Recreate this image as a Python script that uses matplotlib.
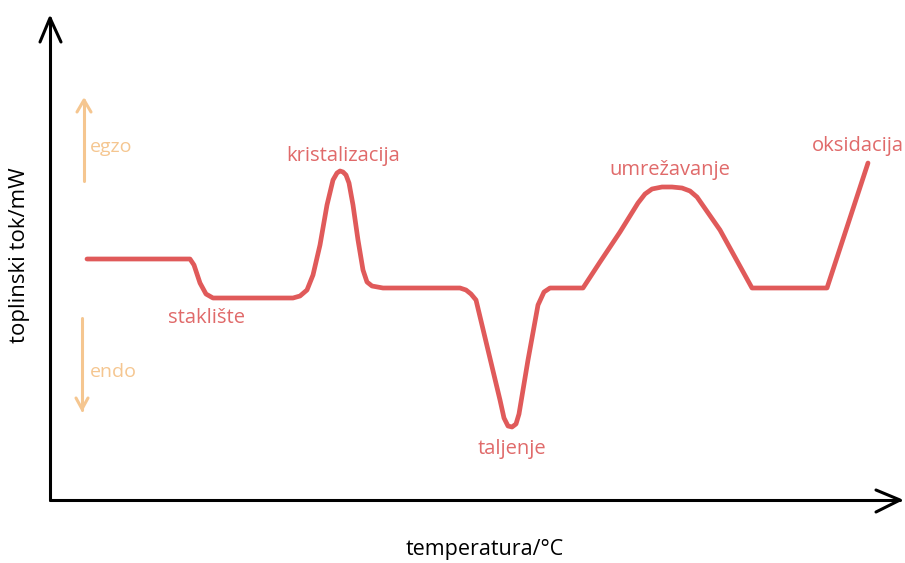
import matplotlib.pyplot as plt

# DSC krivulja (temperatura, toplinski tok) - procijenjeno sa slike
temperatura = [87, 190, 194, 200, 206, 213, 293, 300, 307, 313, 320, 327, 333, 337, 340, 343,
               346, 349, 353, 358, 363, 367, 372, 383, 460, 466, 471, 476, 488, 500, 504,
               508, 512, 516, 519, 528, 538, 544, 550, 583, 600, 620, 638, 645, 652, 662,
               672, 682, 690, 697, 720, 752, 827, 868]
tok = [259, 259, 265, 283, 294, 298, 298, 296, 290, 275, 245, 205, 180, 173, 171, 172,
       175, 183, 205, 240, 270, 282, 286, 288, 288, 290, 294, 300, 350, 400, 418,
       426, 427, 424, 414, 360, 305, 292, 288, 288, 262, 232, 203, 194, 189, 187,
       187, 188, 191, 197, 230, 288, 288, 163]

oznake = ['kristalizacija', 'staklište', 'taljenje', 'umrežavanje', 'oksidacija']
oznake_x = [343, 206, 512, 670, 858]
oznake_y = [156, 318, 449, 170, 146]

crvena = '#e05a5a'
narancasta = '#f5c690'

fig = plt.figure(figsize=(9.05, 5.63), dpi=100)
ax = fig.add_axes([0, 0, 1, 1])
ax.set_xlim(0, 905)
ax.set_ylim(563, 0)
ax.axis('off')

# osi
ax.plot([50, 50], [500, 18], color='black', lw=2.2, solid_capstyle='round')
ax.plot([50, 900], [500, 500], color='black', lw=2.2, solid_capstyle='round')
ax.plot([40, 50, 61], [42, 18, 42], color='black', lw=2.2, solid_capstyle='round', solid_joinstyle='round')
ax.plot([876, 900, 876], [490, 500, 512], color='black', lw=2.2, solid_capstyle='round', solid_joinstyle='round')

ax.plot(temperatura, tok, color=crvena, lw=3.4, solid_capstyle='round', solid_joinstyle='round')

for t, x, y in zip(oznake, oznake_x, oznake_y):
    ax.text(x, y, t, color='#e06a6a', fontsize=14.5, ha='center', va='center', family='Open Sans')

# egzo / endo strelice
ax.plot([84, 84], [181, 100], color=narancasta, lw=2.2, solid_capstyle='round')
ax.plot([77, 84, 91], [112, 100, 112], color=narancasta, lw=2.2, solid_capstyle='round')
ax.plot([82, 82], [318, 410], color=narancasta, lw=2.2, solid_capstyle='round')
ax.plot([76, 82, 88], [398, 409, 398], color=narancasta, lw=2.2, solid_capstyle='round')
ax.text(90, 147, 'egzo', color=narancasta, fontsize=14, va='center', family='Open Sans')
ax.text(90, 372, 'endo', color=narancasta, fontsize=14, va='center', family='Open Sans')

ax.text(20, 255, 'toplinski tok/mW', rotation=90, fontsize=16, ha='center', va='center', family='Open Sans')
ax.text(485, 550, 'temperatura/°C', fontsize=15.5, ha='center', va='center', family='Open Sans')

fig.savefig('out.png', dpi=100)
